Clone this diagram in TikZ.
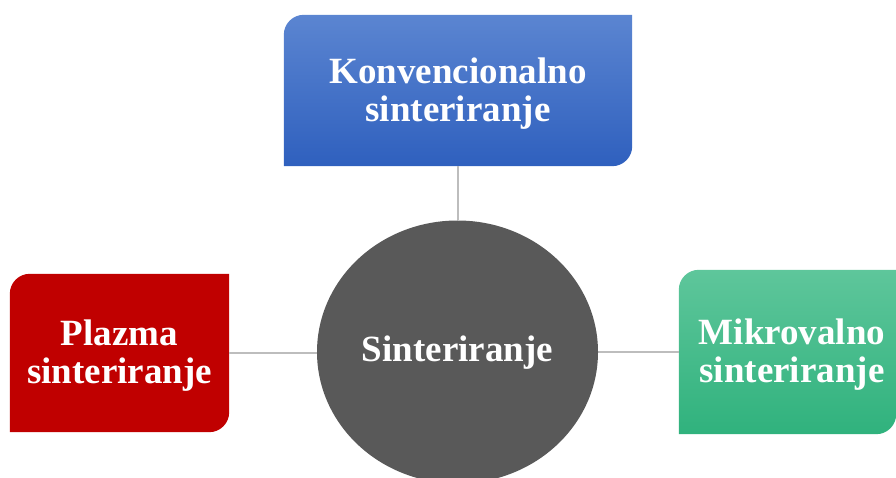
\documentclass[tikz,border=0pt]{standalone}
\usepackage{fontspec}
\setmainfont{Liberation Serif}
\usetikzlibrary{shapes.geometric,backgrounds}
\definecolor{blueT}{HTML}{5B85D1}
\definecolor{blueB}{HTML}{2F60BE}
\definecolor{greenT}{HTML}{5EC69B}
\definecolor{greenB}{HTML}{30B27D}
\definecolor{redF}{HTML}{C00000}
\definecolor{circGray}{HTML}{595959}
\definecolor{lineGray}{HTML}{BDBDBD}
\newcommand{\topstrut}{\rule{0pt}{31pt}}
\begin{document}
\begin{tikzpicture}[x=1pt,y=1pt,
  boxtext/.style={text=white, font=\fontsize{37}{38}\selectfont\bfseries, align=center, inner sep=0pt},
  conn/.style={draw=lineGray, line width=1.2pt}]
\useasboundingbox (0,0) rectangle (896,477);
\clip (0,0) rectangle (896,477);
\node[boxtext, minimum width=348pt, minimum height=151pt] (konv) at (458,386.5) {\topstrut Konvencionalno\\sinteriranje};
\node[boxtext, minimum width=219pt, minimum height=158pt] (plaz) at (119.5,124) {\topstrut Plazma\\sinteriranje};
\node[boxtext, minimum width=217pt, minimum height=164pt] (mik) at (787.5,125) {\hspace*{9pt}\topstrut Mikrovalno\\\hspace*{9pt}sinteriranje};
\node[ellipse, fill=circGray, minimum width=281pt, minimum height=263pt, inner sep=0pt, text=white, font=\fontsize{37}{38}\selectfont\bfseries] (sint) at (457.5,125) {\rule{0pt}{27pt}Sinteriranje};
\begin{scope}[on background layer]
  \shade[top color=blueT, bottom color=blueB] (konv.south west) -- ([yshift=-20pt]konv.north west) arc[start angle=180, end angle=90, radius=20pt] -- (konv.north east) -- ([yshift=20pt]konv.south east) arc[start angle=0, end angle=-90, radius=20pt] -- cycle;
  \fill[redF] (plaz.south west) -- ([yshift=-20pt]plaz.north west) arc[start angle=180, end angle=90, radius=20pt] -- (plaz.north east) -- ([yshift=20pt]plaz.south east) arc[start angle=0, end angle=-90, radius=20pt] -- cycle;
  \shade[top color=greenT, bottom color=greenB] (mik.south west) -- ([yshift=-20pt]mik.north west) arc[start angle=180, end angle=90, radius=20pt] -- (mik.north east) -- ([yshift=20pt]mik.south east) arc[start angle=0, end angle=-90, radius=20pt] -- cycle;
  \draw[conn] (konv.south) -- (konv.south |- sint.north);
  \draw[conn] (plaz.east) -- (plaz.east -| sint.west);
  \draw[conn] (mik.west) -- (mik.west -| sint.east);
\end{scope}
\end{tikzpicture}
\end{document}
